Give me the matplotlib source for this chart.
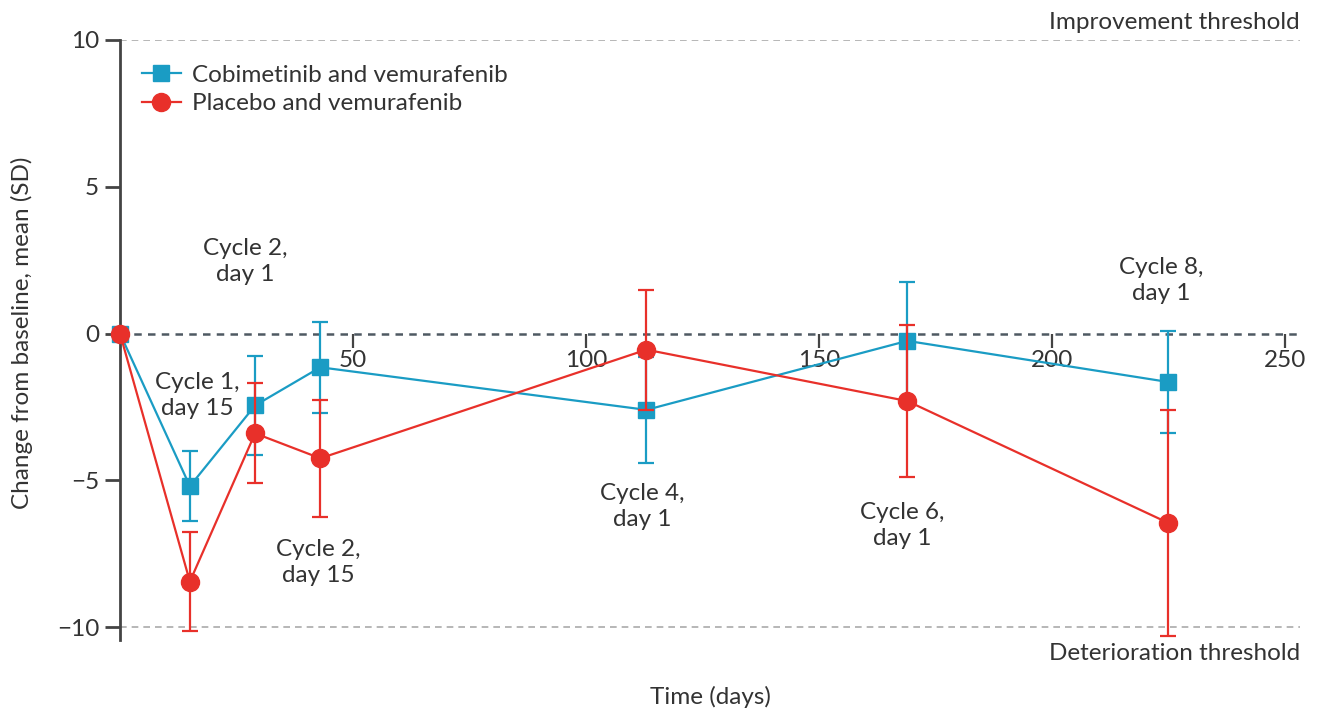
import matplotlib
matplotlib.use("Agg")
import matplotlib.pyplot as plt
from matplotlib.lines import Line2D

# values
days = [0, 15, 29, 43, 113, 169, 225]
cobi_mean = [0, -5.2, -2.45, -1.15, -2.6, -0.25, -1.65]
cobi_sd = [0, 1.2, 1.7, 1.55, 1.8, 2.0, 1.75]
placebo_mean = [0, -8.45, -3.4, -4.25, -0.55, -2.3, -6.45]
placebo_sd = [0, 1.7, 1.7, 2.0, 2.05, 2.6, 3.85]

x_ticks = [50, 100, 150, 200, 250]
y_ticks = [10, 5, 0, -5, -10]

# (text, x in days, y in SD units)
visit_labels = [
    ("Cycle 1,\nday 15", 16.5, -2.1),
    ("Cycle 2,\nday 1", 26.8, 2.45),
    ("Cycle 2,\nday 15", 42.5, -7.8),
    ("Cycle 4,\nday 1", 112, -5.9),
    ("Cycle 6,\nday 1", 168, -6.55),
    ("Cycle 8,\nday 1", 223.6, 1.8),
]

BLUE = "#1a9cc4"
RED = "#e8302a"
TXT = "#333333"
FS = 17.5

plt.rcParams["font.family"] = ["Lato", "DejaVu Sans"]

fig = plt.figure(figsize=(13.21, 7.15), dpi=100)
ax = fig.add_axes([120 / 1321, 1 - 640 / 715, 1180 / 1321, 600 / 715])
ax.set_xlim(0, 253.3)
ax.set_ylim(-10.44, 10)

ax.axhline(10, color="#aaaaaa", lw=1.2, ls=(0, (4, 3)), zorder=1)
ax.axhline(-10, color="#aaaaaa", lw=1.2, ls=(0, (4, 3)), zorder=1)
ax.axhline(0, color="#4f5962", lw=1.8, ls=(0, (3, 2.5)), zorder=1)

ax.errorbar(days, cobi_mean, yerr=cobi_sd, color=BLUE, marker="s", ms=11,
            lw=1.6, elinewidth=1.6, capsize=5.5, capthick=1.6,
            zorder=3, clip_on=False)
ax.errorbar(days, placebo_mean, yerr=placebo_sd, color=RED, marker="o", ms=13,
            lw=1.6, elinewidth=1.6, capsize=5.5, capthick=1.6,
            zorder=4, clip_on=False)

for txt, xv, yv in visit_labels:
    ax.text(xv, yv, txt, ha="center", va="center", fontsize=FS, color=TXT,
            linespacing=1.3)

ax.text(1.0, 10.25, "Improvement threshold", transform=ax.get_yaxis_transform(),
        ha="right", va="bottom", fontsize=FS, color=TXT)
ax.text(1.0, -10.55, "Deterioration threshold", transform=ax.get_yaxis_transform(),
        ha="right", va="top", fontsize=FS, color=TXT)

for s in ["top", "right", "bottom"]:
    ax.spines[s].set_visible(False)
ax.spines["left"].set_color("#444444")
ax.spines["left"].set_linewidth(2)
ax.spines["bottom"].set_position(("data", 0))

ax.set_xticks(x_ticks)
ax.set_yticks(y_ticks)
ax.set_yticklabels([str(v).replace("-", "\u2212") for v in y_ticks])
ax.tick_params(axis="x", direction="out", length=10, width=1.6, color="#444444",
               labelsize=FS, labelcolor=TXT, pad=2)
ax.tick_params(axis="y", direction="out", length=11, width=2, color="#444444",
               labelsize=FS, labelcolor=TXT, pad=4)

fig.text(22 / 1321, 1 - 333 / 715, "Change from baseline, mean (SD)", rotation=90,
         ha="center", va="center", fontsize=FS, color=TXT)
fig.text(710 / 1321, 1 - 697 / 715, "Time (days)", ha="center", va="center",
         fontsize=FS, color=TXT)

handles = [
    Line2D([], [], color=BLUE, marker="s", ms=11, lw=1.6),
    Line2D([], [], color=RED, marker="o", ms=13, lw=1.6),
]
labels = ["Cobimetinib and vemurafenib", "Placebo and vemurafenib"]
ax.legend(handles, labels, loc="upper left", bbox_to_anchor=(0.0, 0.995),
          frameon=False, fontsize=FS, handlelength=1.6, handletextpad=0.45,
          labelspacing=0.3, borderaxespad=0.5, labelcolor=TXT)

fig.savefig("out.png", dpi=100)
